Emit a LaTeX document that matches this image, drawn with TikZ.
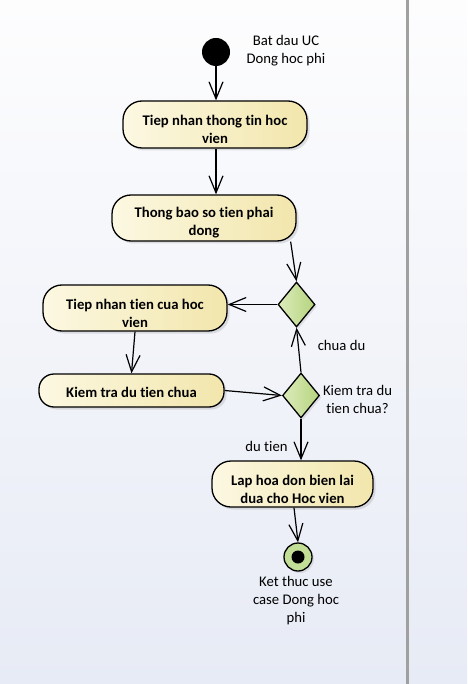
\documentclass[tikz,border=0pt]{standalone}
\usepackage{fontspec}
\setmainfont{Carlito}[Ligatures={NoCommon}]
\usetikzlibrary{arrows.meta,shapes.geometric,shadows}
\definecolor{actL}{HTML}{FCF8E2}
\definecolor{actR}{HTML}{F2E6AC}
\definecolor{decL}{HTML}{DCEBBB}
\definecolor{decR}{HTML}{B5D47E}
\definecolor{endG}{HTML}{C3DE96}
\definecolor{bgTop}{HTML}{FDFDFE}
\definecolor{bgBot}{HTML}{E7EBF5}
\definecolor{sep}{HTML}{A0A0A0}
\tikzset{
  actbox/.style={draw=black, line width=1.3pt, rounded corners=19pt, minimum height=46pt,
    left color=actL, right color=actR, inner sep=0pt,
    drop shadow={shadow xshift=2.5pt, shadow yshift=-2.5pt, opacity=0.22}},
  acttext/.style={align=center, inner sep=0pt, font=\fontsize{14.7}{18}\selectfont\bfseries},
  decbox/.style={diamond, draw=black, line width=1.3pt, minimum width=37pt, minimum height=45pt,
    inner sep=0pt, left color=decL, right color=decR,
    drop shadow={shadow xshift=2pt, shadow yshift=-2pt, opacity=0.18}},
  lbl/.style={align=center, font=\fontsize{14.7}{18}\selectfont, inner sep=0pt},
  arr/.style={draw=black, line width=1.2pt, -{Straight Barb[length=17pt,width=14pt,line width=1.2pt]}},
}
\begin{document}
\begin{tikzpicture}[x=1pt,y=-1pt]
\useasboundingbox (0,0) rectangle (467,684);
\shade[top color=bgTop, bottom color=bgBot] (0,0) rectangle (467,684);
\fill[sep] (405.5,0) rectangle (408.5,684);

\node[circle, fill=black, minimum size=28pt, inner sep=0pt] (start) at (216,52) {};
\node[lbl] (startlbl) at (286,50.5) {Bat dau UC\\Dong hoc phi};

\node[actbox, minimum width=184pt, minimum height=47pt] (a1) at (215,124.5) {};
\node[acttext] (a1t) at ([yshift=-5pt]a1.center) {Tiep nhan thong tin hoc\\vien};
\node[actbox, minimum width=184pt] (a2) at (204,218) {};
\node[acttext] (a2t) at ([yshift=-5pt]a2.center) {Thong bao so tien phai\\dong};
\node[decbox] (d1) at (296.5,304.5) {};
\node[actbox, minimum width=184pt] (a3) at (135,308) {};
\node[acttext] (a3t) at ([yshift=-5pt]a3.center) {Tiep nhan tien cua hoc\\vien};
\node[actbox, minimum width=185pt, minimum height=33pt, rounded corners=15pt] (a4) at (131.5,390.5) {};
\node[acttext] (a4t) at ([yshift=-2pt]a4.center) {Kiem tra du tien chua};
\node[decbox] (d2) at (301,395.5) {};
\node[actbox, minimum width=161pt] (a5) at (292.5,484) {};
\node[acttext] (a5t) at ([yshift=-5.5pt]a5.center) {Lap hoa don bien lai\\dua cho Hoc vien};

\node[circle, draw=black, line width=1.3pt, fill=endG, minimum size=28pt, inner sep=0pt,
  drop shadow={shadow xshift=2pt, shadow yshift=-2pt, opacity=0.18}] (end) at (298,557) {};
\node[circle, fill=black, minimum size=13pt, inner sep=0pt] (enddot) at (end.center) {};

\node[lbl] (chuadu) at (341.5,345.5) {chua du};
\node[lbl] (kiemlbl) at (357.5,399) {Kiem tra du\\tien chua?};
\node[lbl] (dutien) at (266.5,446) {du tien};
\node[lbl] (endlbl) at (296,601) {Ket thuc use\\case Dong hoc\\phi};

\draw[arr] (start.south) -- (start |- a1.north);
\draw[arr] ([xshift=1pt]a1.south) -- ([xshift=12pt]a2.north);
\draw[arr] ([xshift=-6pt]a2.south east) -- (d1.north);
\draw[arr] (d1.west) -- (d1.west -| a3.east);
\draw[arr] (a3.south) -- (a4.north);
\draw[arr] (a4.east) -- (d2.west);
\draw[arr] (d2.north) -- (d1.south);
\draw[arr] (d2.south) -- (d2.south |- a5.north);
\draw[arr] ([xshift=1.5pt]a5.south) -- (end.north);
\end{tikzpicture}
\end{document}
